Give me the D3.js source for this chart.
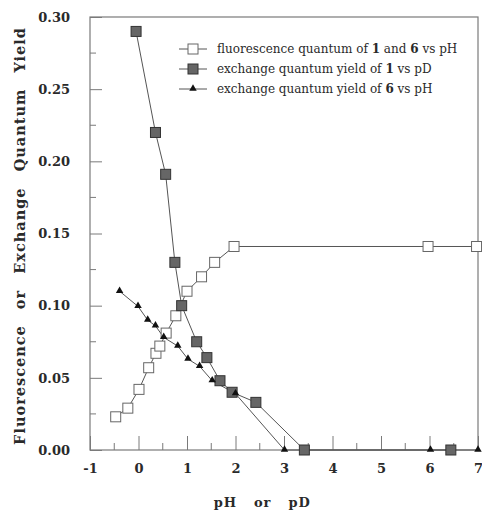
<!DOCTYPE html>
<html>
<head>
<meta charset="utf-8">
<script src="https://cdn.jsdelivr.net/npm/d3@7"></script>
<style>
  body { margin: 0; background: #fff; }
  svg text { font-family: "DejaVu Serif", "Liberation Serif", serif; fill: #2a2a2a; }
  .tick-label { font-weight: bold; font-size: 13px; }
</style>
</head>
<body>
<div id="chart"></div>
<script>
// fluorescence quantum of 1 and 6 vs pH (open squares)
var fluorPH    = [-0.47, -0.22, 0.01, 0.21, 0.36, 0.44, 0.57, 0.77, 1.00, 1.30, 1.57, 1.97, 5.97, 6.97];
var fluorYield = [0.023, 0.029, 0.042, 0.057, 0.067, 0.072, 0.081, 0.093, 0.110, 0.120, 0.130, 0.141, 0.141, 0.141];

// exchange quantum yield of 1 vs pD (dark squares)
var exch1PD    = [-0.05, 0.35, 0.56, 0.75, 0.89, 1.20, 1.41, 1.68, 1.93, 2.42, 3.42, 6.44];
var exch1Yield = [0.290, 0.220, 0.191, 0.130, 0.100, 0.075, 0.064, 0.048, 0.040, 0.033, 0.000, 0.000];

// exchange quantum yield of 6 vs pH (triangles)
var exch6PH    = [-0.39, -0.01, 0.19, 0.35, 0.52, 0.81, 1.02, 1.26, 1.52, 2.00, 3.01, 6.02, 7.00];
var exch6Yield = [0.110, 0.0995, 0.090, 0.086, 0.078, 0.072, 0.063, 0.058, 0.048, 0.039, 0.000, 0.000, 0.000];

var xTicks = [-1, 0, 1, 2, 3, 4, 5, 6, 7];
var yTicks = [0.00, 0.05, 0.10, 0.15, 0.20, 0.25, 0.30];

var legendLabels = [
  ["fluorescence quantum of ", "1", " and ", "6", " vs pH"],
  ["exchange quantum yield of ", "1", " vs pD"],
  ["exchange quantum yield of ", "6", " vs pH"]
];

var margin = {top: 17, right: 4, bottom: 65, left: 90},
    width = 482 - margin.left - margin.right,
    height = 515 - margin.top - margin.bottom;

var svg = d3.select("#chart").append("svg")
    .attr("width", 482)
    .attr("height", 515);

var g = svg.append("g")
    .attr("transform", "translate(" + margin.left + "," + margin.top + ")");

var x = d3.scaleLinear().domain([-1, 7]).range([0, width]),
    y = d3.scaleLinear().domain([0, 0.30]).range([height, 0]);

var axisColor = "#7a7a7a";

// frame
g.append("rect")
    .attr("width", width).attr("height", height)
    .attr("fill", "none").attr("stroke", axisColor).attr("stroke-width", 1.2);

// x axis ticks (inside, minor at halves)
var xMinor = d3.range(-0.5, 7, 1);
var xAx = g.append("g").attr("transform", "translate(0," + height + ")");
xAx.call(d3.axisBottom(x).tickValues(xTicks).tickSize(-14).tickPadding(14)
    .tickFormat(function (d) { return String(d); }));
xAx.select(".domain").remove();
xAx.selectAll(".tick line").attr("stroke", axisColor);
xAx.selectAll(".tick text").attr("class", "tick-label").attr("font-size", null).attr("font-family", null);
xAx.selectAll(".minor").data(xMinor).enter().append("line")
    .attr("x1", function (d) { return x(d); }).attr("x2", function (d) { return x(d); })
    .attr("y1", 0).attr("y2", -7).attr("stroke", axisColor);

// y axis ticks (inside, minor at 0.025)
var yMinor = d3.range(0.025, 0.3, 0.05);
var yAx = g.append("g");
yAx.call(d3.axisLeft(y).tickValues(yTicks).tickSize(-12).tickPadding(20).tickFormat(d3.format(".2f")));
yAx.select(".domain").remove();
yAx.selectAll(".tick line").attr("stroke", axisColor);
yAx.selectAll(".tick text").attr("class", "tick-label").attr("font-size", null).attr("font-family", null);
yAx.selectAll(".minor").data(yMinor).enter().append("line")
    .attr("y1", function (d) { return y(d); }).attr("y2", function (d) { return y(d); })
    .attr("x1", 0).attr("x2", 6).attr("stroke", axisColor);

// axis titles
svg.append("text")
    .attr("x", margin.left + x(2.55)).attr("y", 507)
    .attr("text-anchor", "middle")
    .attr("font-weight", "bold").attr("font-size", 13)
    .attr("letter-spacing", 0.8)
    .attr("word-spacing", 12)
    .text("pH or pD");

svg.append("text")
    .attr("transform", "translate(25,236) rotate(-90)")
    .attr("text-anchor", "middle")
    .attr("font-weight", "bold").attr("font-size", 14.5)
    .attr("letter-spacing", 1)
    .attr("word-spacing", 10)
    .text("Fluorescence or Exchange Quantum Yield");

// series
function zip(xs, ys) { return xs.map(function (v, i) { return [v, ys[i]]; }); }

var fluor = zip(fluorPH, fluorYield),
    exch1 = zip(exch1PD, exch1Yield),
    exch6 = zip(exch6PH, exch6Yield);

var line = d3.line()
    .x(function (d) { return x(d[0]); })
    .y(function (d) { return y(d[1]); });

var lineColor = "#555";

[fluor, exch1, exch6].forEach(function (s) {
    g.append("path").datum(s)
        .attr("fill", "none").attr("stroke", lineColor).attr("stroke-width", 1)
        .attr("d", line);
});

var triangle = d3.symbol().type(d3.symbolTriangle).size(24);

function drawOpen(sel, cx, cy) {
    sel.append("rect").attr("x", cx - 5).attr("y", cy - 5).attr("width", 10).attr("height", 10)
        .attr("fill", "#fff").attr("stroke", "#666").attr("stroke-width", 1);
}
function drawDark(sel, cx, cy) {
    sel.append("rect").attr("x", cx - 5).attr("y", cy - 5).attr("width", 10).attr("height", 10)
        .attr("fill", "#666").attr("stroke", "#333").attr("stroke-width", 1);
}
function drawTri(sel, cx, cy) {
    sel.append("path").attr("d", triangle)
        .attr("transform", "translate(" + cx + "," + (cy - 0.5) + ")")
        .attr("fill", "#111");
}

fluor.forEach(function (d) { drawOpen(g, x(d[0]), y(d[1])); });
exch1.forEach(function (d) { drawDark(g, x(d[0]), y(d[1])); });
exch6.forEach(function (d) { drawTri(g, x(d[0]), y(d[1])); });

// legend
var legend = svg.append("g");
var drawers = [drawOpen, drawDark, drawTri];
legendLabels.forEach(function (parts, i) {
    var ly = 49 + i * 20;
    legend.append("line").attr("x1", 179).attr("x2", 207).attr("y1", ly).attr("y2", ly)
        .attr("stroke", lineColor);
    drawers[i](legend, 193, ly);
    var t = legend.append("text").attr("x", 217).attr("y", ly + 4).attr("font-size", 12);
    parts.forEach(function (p) {
        t.append("tspan").attr("font-weight", /^\d$/.test(p) ? "bold" : null).text(p);
    });
});
</script>
</body>
</html>
